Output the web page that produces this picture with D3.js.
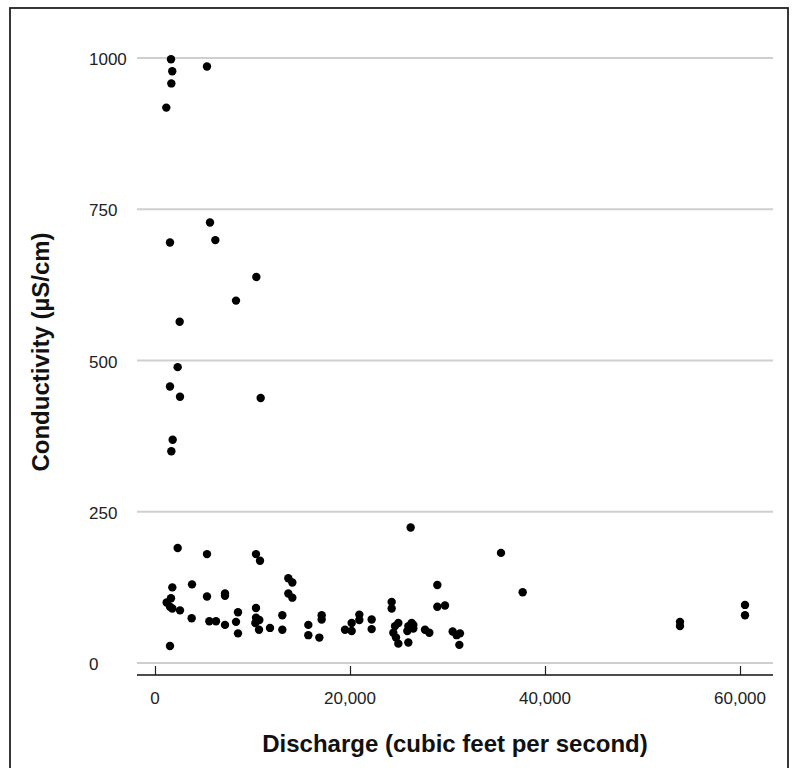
<!DOCTYPE html>
<html>
<head>
<meta charset="utf-8">
<script src="https://cdn.jsdelivr.net/npm/d3@7"></script>
<style>
  body { margin: 0; background: #fff; }
  svg { display: block; }
</style>
</head>
<body>
<script>
// discharge (cfs) and conductivity (uS/cm)
var discharge = [
  1641, 1770, 1675, 1160, 5333, 5641, 1538, 6188, 10393, 8308, 2530, 2325, 1538, 2564, 10838, 1812, 1675,
  2325, 5333, 10359, 10770, 1777, 3795, 5333, 7180, 7180, 1197, 1641, 1538, 1777, 2564, 3760, 5573, 6256,
  7180, 8513, 8308, 8513, 10359, 10359, 10700, 10290, 10667, 11795, 1538, 13675, 14085, 13675, 14085,
  13060, 13060, 15726, 15726, 16855, 17094, 17094, 19487, 20171, 20171, 20957, 20957, 22222, 22222,
  26222, 35487, 28957, 24274, 24274, 28957, 29744, 24615, 24957, 24444, 24718, 24957, 25983, 26325,
  26496, 25880, 25983, 26496, 27692, 28137, 30530, 30940, 31282, 31214, 37710, 53846, 53846, 60513, 60513
];
var conductivity = [
  998, 978, 958, 918, 986, 728, 695, 699, 638, 599, 564, 489, 457, 440, 438, 369, 350,
  190, 180, 180, 169, 125, 130, 110, 115, 111, 100, 107, 93, 90, 87, 74, 69, 69,
  63, 84, 68, 49, 91, 75, 71, 66, 55, 58, 28, 140, 133, 115, 108,
  79, 55, 63, 46, 42, 79, 72, 55, 66, 53, 80, 71, 72, 56,
  224, 182, 129, 101, 90, 93, 95, 61, 66, 50, 42, 32, 61, 66,
  57, 53, 34, 63, 55, 50, 52, 46, 49, 30, 117, 68, 61, 96, 79
];
var xTicks = [0, 20000, 40000, 60000];
var yTicks = [0, 250, 500, 750, 1000];

var W = 792, H = 768;
var svg = d3.select('body').append('svg').attr('width', W).attr('height', H);

var x = d3.scaleLinear().domain([0, 60000]).range([155, 740]);
var y = d3.scaleLinear().domain([0, 1000]).range([663, 58]);
var left = 137, right = 773, axisY = 675;
var font = 'Liberation Sans, Arial, sans-serif';

// outer frame
svg.append('rect').attr('x', 10).attr('y', 8).attr('width', 778).attr('height', 800)
  .attr('fill', 'none').attr('stroke', '#222').attr('stroke-width', 1.8);

// gridlines
svg.selectAll('.grid').data(yTicks).enter().append('line')
  .attr('x1', left).attr('x2', right)
  .attr('y1', function (d) { return y(d); }).attr('y2', function (d) { return y(d); })
  .attr('stroke', '#cfcfcf').attr('stroke-width', 2);

// y tick labels (left aligned, like the original)
svg.selectAll('.ylab').data(yTicks).enter().append('text')
  .attr('x', 89).attr('y', function (d) { return y(d) + 7; })
  .attr('font-family', font).attr('font-size', 17)
  .attr('fill', '#222').text(function (d) { return d; });

// x axis
var xAxis = d3.axisTop(x).tickValues(xTicks).tickSize(9).tickFormat('');
var gx = svg.append('g').attr('transform', 'translate(0,' + axisY + ')').call(xAxis);
gx.select('.domain').remove();
gx.selectAll('.tick line').attr('stroke', '#222').attr('stroke-width', 1.2);
svg.append('line').attr('x1', left).attr('x2', right).attr('y1', axisY).attr('y2', axisY)
  .attr('stroke', '#111').attr('stroke-width', 1.5);

svg.selectAll('.xlab').data(xTicks).enter().append('text')
  .attr('x', function (d) { return x(d); }).attr('y', 704)
  .attr('text-anchor', 'middle')
  .attr('font-family', font).attr('font-size', 17)
  .attr('fill', '#222').text(d3.format(','));

// points
svg.selectAll('.pt').data(discharge).enter().append('circle')
  .attr('cx', function (d) { return x(d); })
  .attr('cy', function (d, i) { return y(conductivity[i]); })
  .attr('r', 4.2).attr('fill', '#000');

// axis titles
svg.append('text').attr('x', 455).attr('y', 752).attr('text-anchor', 'middle')
  .attr('font-family', font).attr('font-size', 24)
  .attr('font-weight', 'bold').attr('fill', '#111')
  .text('Discharge (cubic feet per second)');

svg.append('text').attr('transform', 'translate(49,352) rotate(-90)').attr('text-anchor', 'middle')
  .attr('font-family', font).attr('font-size', 24)
  .attr('font-weight', 'bold').attr('fill', '#111')
  .text('Conductivity (µS/cm)');
</script>
</body>
</html>
